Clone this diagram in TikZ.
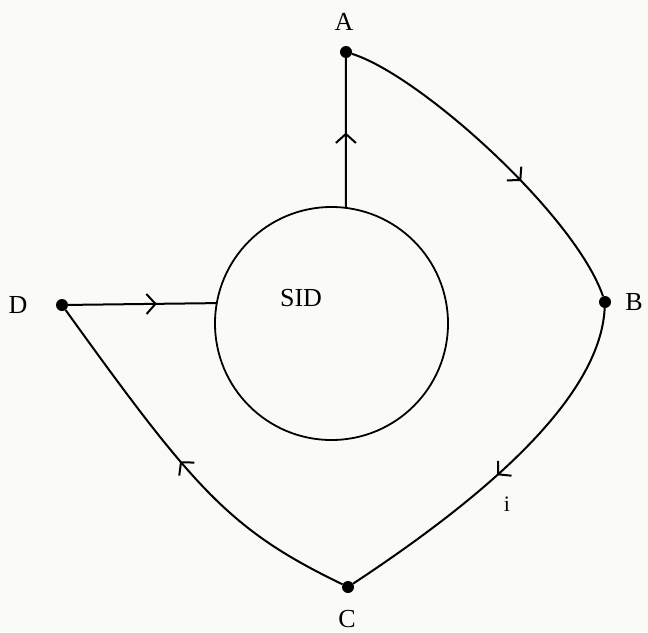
\documentclass[tikz,border=0pt]{standalone}
\usepackage{fontspec}
\setmainfont{Liberation Serif}
\usetikzlibrary{arrows.meta,decorations.markings}
\definecolor{paper}{HTML}{FAFAF7}
\tikzset{
  dot/.style={circle,fill=black,inner sep=0pt,minimum size=12pt},
  lbl/.style={inner sep=0pt,font=\fontsize{26}{26}\selectfont},
  edge/.style={line width=2pt,black},
  midarrow/.style={postaction={decorate},decoration={markings,
     mark=at position #1 with {\arrow{Straight Barb[length=9pt,width=20pt,line width=2pt]}}}}
}
\begin{document}
\begin{tikzpicture}[x=1pt,y=-1pt]
\fill[paper] (0,0) rectangle (648,632);
\useasboundingbox (0,0) rectangle (648,632);
% main circle
\node[circle,draw,line width=1.8pt,minimum size=233pt,inner sep=0pt] (sid) at (331.5,323.5) {};
\node[lbl] (sidlbl) at (301,298) {SID};
% points
\node[dot] (A) at (346,52) {};
\node[dot] (B) at (605,302) {};
\node[dot] (C) at (348,587) {};
\node[dot] (D) at (62,305) {};
% labels
\node[lbl] (la) at (344,22) {A};
\node[lbl] (lb) at (634,302) {B};
\node[lbl] (lc) at (347,619) {C};
\node[lbl] (ld) at (18,305) {D};
\node[inner sep=0pt,font=\fontsize{22}{22}\selectfont] (imark) at (507,504) {i};
% connectors
\draw[edge,midarrow=0.5] (sid.83) -- (A);
\draw[edge,midarrow=0.6] (A) .. controls (420,75) and (575,215) .. (B);
\draw[edge,midarrow=0.53] (B) .. controls (600,400) and (480,500) .. (C);
\draw[edge,midarrow=0.52] (C) .. controls (230,530) and (195,490) .. (D);
\draw[edge,midarrow=0.6] (D) -- (sid.170);
\end{tikzpicture}
\end{document}
